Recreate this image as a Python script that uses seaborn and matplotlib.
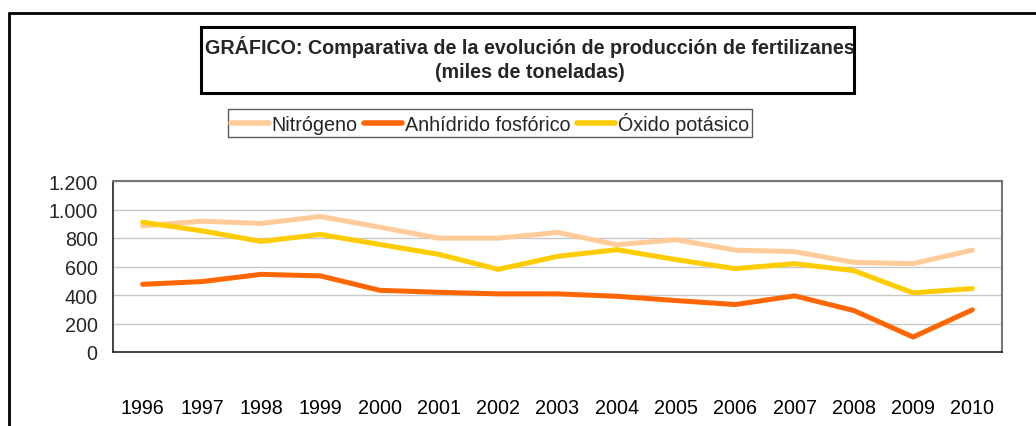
import numpy as np
import pandas as pd
import matplotlib.pyplot as plt
import seaborn as sns
from matplotlib.lines import Line2D
from matplotlib.patches import Rectangle
from matplotlib.ticker import FuncFormatter

# --- Data (miles de toneladas) ---
years = ["1996", "1997", "1998", "1999", "2000", "2001", "2002", "2003",
         "2004", "2005", "2006", "2007", "2008", "2009", "2010"]
nitrogeno = [885, 918, 902, 951, 876, 799, 799, 839, 753, 788, 715, 704, 629, 620, 715]
anhidrido = [475, 494, 545, 534, 433, 419, 408, 408, 391, 361, 333, 394, 291, 105, 296]
oxido = [911, 850, 776, 825, 755, 685, 580, 671, 718, 648, 585, 620, 571, 415, 445]

series_names = ["Nitrógeno", "Anhídrido fosfórico", "Óxido potásico"]
colors = ["#FFCC99", "#FF6600", "#FFCC00"]

df = pd.DataFrame({
    "Año": years * 3,
    "Valor": nitrogeno + anhidrido + oxido,
    "Serie": [series_names[0]] * len(years) + [series_names[1]] * len(years) + [series_names[2]] * len(years),
})

sns.set_style("white")
plt.rcParams["font.family"] = ["Liberation Sans", "DejaVu Sans"]
fs = 14.2

fig = plt.figure(figsize=(10.36, 4.27), dpi=100)
ax = fig.add_axes([113 / 1036, 1 - 353 / 427, (1002 - 113) / 1036, (353 - 182) / 427])

sns.lineplot(data=df, x="Año", y="Valor", hue="Serie", palette=colors,
             linewidth=3.6, sort=False, ax=ax, legend=False)

# --- Axes styling ---
ax.set_xlim(-0.5, len(years) - 0.5)
ax.set_ylim(0, 1200)
ax.set_yticks(range(0, 1201, 200))
ax.yaxis.set_major_formatter(FuncFormatter(lambda v, p: f"{int(v):,}".replace(",", ".")))
ax.grid(axis="y", color="#C8C8C8", linewidth=1)
ax.set_axisbelow(True)
ax.set_xlabel("")
ax.set_ylabel("")

ax.set_xticks(range(len(years)))
ax.set_xticklabels(years)
ax.set_xticks(np.arange(-0.5, len(years), 1), minor=True)
ax.tick_params(axis="x", which="major", length=0, pad=33, labelsize=fs, colors="black")
ax.tick_params(axis="x", which="minor", length=6, width=1, color="#222222", direction="out")
ax.tick_params(axis="y", length=5, width=1, color="#222222", direction="out", pad=6, labelsize=fs)

for side in ["left", "bottom"]:
    ax.spines[side].set_color("#222222")
    ax.spines[side].set_linewidth(1.2)
for side in ["top", "right"]:
    ax.spines[side].set_color("#777777")
    ax.spines[side].set_linewidth(1.5)

# --- Title box ---
fig.add_artist(Rectangle((201 / 1036, 1 - 94 / 427), (854 - 201) / 1036, (94 - 28) / 427,
                         transform=fig.transFigure, fill=False, edgecolor="black", linewidth=2.2))
fig.text(530 / 1036, 1 - 47 / 427,
         "GRÁFICO: Comparativa de la evolución de producción de fertilizanes",
         ha="center", va="center", fontsize=fs, fontweight="bold")
fig.text(530 / 1036, 1 - 73 / 427, "(miles de toneladas)",
         ha="center", va="center", fontsize=fs, fontweight="bold")

# --- Legend ---
handles = [Line2D([0], [0], color=c, linewidth=4) for c in colors]
leg = fig.legend(handles, series_names, loc="center", bbox_to_anchor=(490 / 1036, 1 - 124 / 427),
                 ncol=3, fontsize=fs, frameon=True, fancybox=False, handlelength=1.9,
                 handletextpad=0.15, columnspacing=0.35, borderpad=0.15, borderaxespad=0)
leg.get_frame().set_edgecolor("#333333")
leg.get_frame().set_linewidth(1)

# --- Outer chart border (cropped at right and bottom) ---
fig.add_artist(Line2D([9 / 1036, 1.0], [1 - 14 / 427, 1 - 14 / 427], transform=fig.transFigure,
                      color="black", linewidth=2))
fig.add_artist(Line2D([9 / 1036, 9 / 1036], [1 - 14 / 427, 0.0], transform=fig.transFigure,
                      color="black", linewidth=2))

fig.savefig("out.png", dpi=100)
